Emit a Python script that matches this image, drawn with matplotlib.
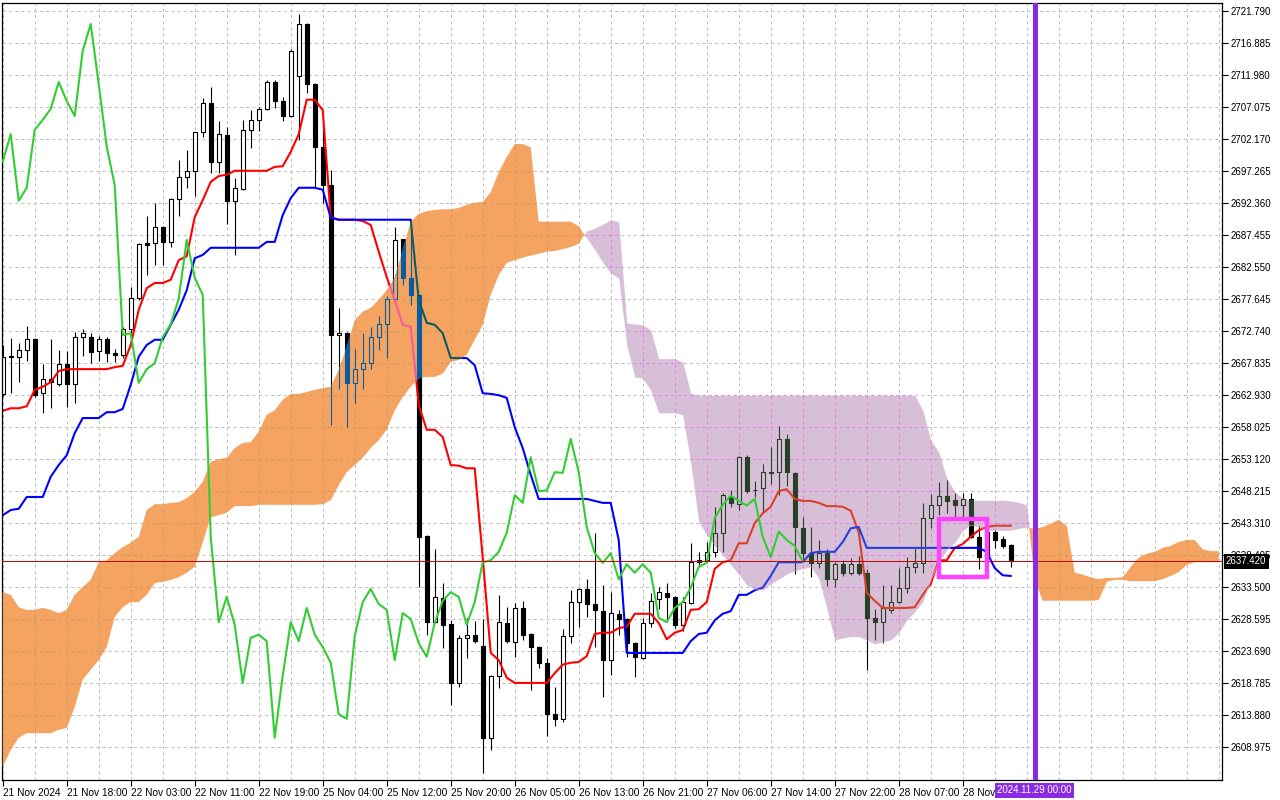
import numpy as np
import matplotlib
matplotlib.use("Agg")
import matplotlib.pyplot as plt
from matplotlib.collections import LineCollection, PolyCollection
from matplotlib.path import Path
from matplotlib.patches import Rectangle

plt.rcParams['font.family'] = ['Liberation Sans', 'DejaVu Sans']

# XAUUSD H1, 21 Nov 10:00 .. 28 Nov 21:00 (127 bars)
opens = [
    2663.1, 2668.8, 2668.8, 2669.8, 2671.5, 2663.2, 2665.4, 2664.6, 2667.7, 2664.6,
    2671.8, 2671.8, 2669.7, 2671.5, 2669.4, 2669.1, 2673.0, 2677.8, 2686.3, 2686.2,
    2688.7, 2686.4, 2693.0, 2696.4, 2697.3, 2703.2, 2707.7, 2698.7, 2702.8, 2692.7,
    2694.5, 2703.6, 2705.1, 2706.8, 2710.9, 2708.0, 2705.7, 2711.8, 2719.8, 2710.6,
    2701.0, 2695.1, 2672.1, 2672.4, 2664.8, 2666.9, 2667.8, 2671.8, 2673.8, 2677.7,
    2686.8, 2680.9, 2678.3, 2641.3, 2628.1, 2631.8, 2627.8, 2618.8, 2625.7, 2626.2,
    2624.5, 2610.4, 2619.9, 2628.0, 2625.1, 2630.3, 2626.3, 2624.3, 2621.9, 2614.0,
    2613.3, 2626.0, 2631.2, 2633.2, 2630.9, 2629.8, 2622.3, 2629.4, 2628.6, 2624.9,
    2622.6, 2628.0, 2631.7, 2632.6, 2632.0, 2627.7, 2631.0, 2637.3, 2637.6, 2638.9,
    2641.8, 2647.3, 2646.2, 2653.4, 2648.4, 2648.7, 2651.1, 2651.1, 2656.2, 2651.0,
    2642.5, 2638.7, 2637.2, 2638.7, 2634.7, 2637.0, 2635.7, 2637.0, 2635.7, 2628.8,
    2628.1, 2630.0, 2631.2, 2633.4, 2636.6, 2637.2, 2644.1, 2646.1, 2647.5, 2646.8,
    2646.0, 2647.0, 2641.2, 2638.1, 2642.0, 2640.9, 2640.0]
highs = [
    2670.6, 2671.7, 2670.9, 2673.5, 2671.6, 2667.7, 2671.5, 2669.8, 2669.7, 2672.6,
    2673.0, 2672.4, 2672.0, 2671.8, 2670.0, 2673.4, 2679.5, 2686.2, 2690.4, 2692.4,
    2688.8, 2693.1, 2699.0, 2700.5, 2703.3, 2708.5, 2710.1, 2704.9, 2704.0, 2696.2,
    2705.1, 2706.6, 2707.1, 2711.2, 2711.2, 2708.6, 2716.0, 2721.3, 2720.0, 2710.7,
    2704.5, 2697.4, 2676.3, 2672.6, 2670.0, 2672.4, 2673.4, 2675.0, 2678.1, 2688.7,
    2686.9, 2688.7, 2678.4, 2641.4, 2639.3, 2634.1, 2628.4, 2626.2, 2628.7, 2628.3,
    2628.6, 2620.0, 2632.3, 2630.4, 2631.0, 2631.4, 2626.4, 2624.4, 2622.6, 2618.2,
    2627.1, 2633.0, 2633.3, 2634.7, 2641.8, 2633.8, 2632.7, 2630.0, 2628.7, 2625.0,
    2628.7, 2632.6, 2633.5, 2634.1, 2632.1, 2632.0, 2640.3, 2638.9, 2640.4, 2645.8,
    2647.9, 2648.4, 2653.6, 2653.7, 2649.8, 2652.4, 2655.0, 2658.2, 2657.0, 2651.2,
    2644.2, 2642.7, 2640.7, 2639.3, 2637.3, 2637.6, 2638.0, 2638.3, 2636.2, 2630.1,
    2633.8, 2633.8, 2636.4, 2638.1, 2639.5, 2646.4, 2647.8, 2649.6, 2649.9, 2647.9,
    2647.9, 2647.9, 2642.9, 2642.2, 2642.3, 2641.3, 2640.1]
lows = [
    2662.8, 2663.2, 2664.9, 2668.1, 2662.6, 2660.2, 2660.9, 2664.3, 2661.1, 2661.7,
    2668.9, 2667.9, 2668.1, 2668.0, 2668.0, 2668.6, 2670.6, 2677.5, 2681.3, 2682.9,
    2682.9, 2685.6, 2690.4, 2694.7, 2693.4, 2702.5, 2697.0, 2697.0, 2689.1, 2684.4,
    2694.4, 2700.8, 2703.4, 2706.6, 2706.9, 2704.9, 2705.5, 2702.0, 2709.2, 2694.8,
    2692.4, 2658.3, 2663.9, 2658.1, 2661.7, 2663.9, 2666.9, 2669.8, 2668.6, 2677.5,
    2679.8, 2676.7, 2633.5, 2626.2, 2628.0, 2624.2, 2615.4, 2618.2, 2622.6, 2624.9,
    2605.0, 2608.5, 2618.0, 2624.9, 2622.8, 2625.4, 2617.7, 2621.1, 2610.7, 2612.2,
    2612.8, 2624.9, 2627.4, 2628.9, 2624.3, 2616.6, 2620.0, 2626.2, 2622.8, 2619.7,
    2622.5, 2627.4, 2630.1, 2628.6, 2627.2, 2626.8, 2630.9, 2636.6, 2637.3, 2638.1,
    2638.9, 2645.8, 2645.3, 2647.9, 2647.3, 2645.0, 2649.3, 2647.6, 2649.0, 2635.5,
    2637.8, 2635.0, 2636.4, 2633.7, 2633.5, 2635.2, 2635.3, 2635.3, 2620.8, 2625.4,
    2624.9, 2629.5, 2631.1, 2632.6, 2635.7, 2635.7, 2642.5, 2644.5, 2644.9, 2644.2,
    2644.2, 2641.0, 2636.3, 2637.6, 2639.5, 2639.5, 2636.6]
closes = [
    2668.8, 2668.9, 2669.8, 2671.5, 2662.9, 2665.4, 2664.9, 2667.7, 2664.6, 2671.8,
    2672.4, 2669.5, 2671.5, 2669.4, 2669.1, 2673.0, 2677.8, 2686.1, 2686.0, 2688.7,
    2686.4, 2693.0, 2696.4, 2697.3, 2703.2, 2707.7, 2698.7, 2702.9, 2692.7, 2694.7,
    2703.6, 2705.1, 2706.8, 2710.9, 2708.0, 2705.7, 2715.7, 2719.8, 2710.6, 2701.0,
    2695.1, 2672.1, 2672.4, 2664.8, 2666.9, 2667.8, 2671.8, 2673.8, 2677.7, 2686.7,
    2680.9, 2678.3, 2641.2, 2628.1, 2632.0, 2627.7, 2618.8, 2625.7, 2626.2, 2625.2,
    2610.4, 2619.9, 2628.1, 2625.2, 2630.3, 2626.2, 2624.3, 2621.9, 2614.0, 2613.3,
    2626.0, 2631.2, 2633.2, 2630.9, 2630.0, 2622.3, 2629.5, 2628.6, 2624.9, 2622.8,
    2628.0, 2631.4, 2632.7, 2632.0, 2627.7, 2631.2, 2637.3, 2637.6, 2638.9, 2641.8,
    2647.6, 2646.4, 2653.4, 2648.2, 2648.3, 2651.1, 2651.0, 2656.2, 2651.1, 2642.7,
    2638.7, 2637.2, 2638.7, 2634.7, 2637.0, 2635.7, 2637.0, 2635.7, 2628.8, 2628.1,
    2630.3, 2631.2, 2633.4, 2636.6, 2637.2, 2644.1, 2646.1, 2647.5, 2646.7, 2646.0,
    2647.0, 2641.2, 2638.1, 2642.0, 2640.7, 2639.8, 2637.42]

tenkan = [
    2660.5, 2660.9, 2660.9, 2661.2, 2663.7, 2664.2, 2664.9, 2666.6, 2666.9, 2666.9,
    2666.9, 2666.9, 2666.9, 2666.9, 2667.2, 2667.4, 2670.6, 2676.0, 2679.3, 2680.1,
    2680.1, 2680.6, 2683.6, 2684.2, 2690.2, 2692.8, 2695.6, 2696.5, 2696.7, 2697.3,
    2697.3, 2697.3, 2697.3, 2697.3, 2697.9, 2698.0, 2700.2, 2702.9, 2708.2, 2708.2,
    2706.6, 2690.2, 2689.8, 2689.8, 2689.8, 2689.6, 2689.0, 2684.9, 2681.0, 2677.5,
    2673.7, 2673.4, 2661.4, 2657.6, 2657.6, 2656.5, 2652.2, 2652.1, 2651.7, 2651.7,
    2638.0, 2623.4, 2622.3, 2619.6, 2618.8, 2618.8, 2618.8, 2618.8, 2618.8, 2620.3,
    2621.6, 2621.9, 2622.0, 2622.9, 2626.3, 2626.5, 2626.5, 2627.2, 2627.4, 2629.4,
    2629.4, 2629.4, 2628.0, 2625.5, 2626.5, 2626.9, 2630.0, 2630.1, 2631.2, 2636.3,
    2637.3, 2637.6, 2640.2, 2640.2, 2643.3, 2644.8, 2645.8, 2648.2, 2648.5, 2647.0,
    2646.7, 2646.7, 2646.4, 2645.9, 2645.9, 2645.8, 2645.2, 2641.9, 2632.6, 2631.4,
    2630.3, 2630.3, 2630.3, 2630.3, 2630.4, 2632.3, 2634.0, 2637.6, 2637.6, 2639.5,
    2640.1, 2641.2, 2642.2, 2642.7, 2642.9, 2642.9, 2642.9]
kijun = [
    2644.5, 2645.3, 2645.5, 2647.3, 2647.3, 2647.3, 2650.4, 2652.2, 2653.7, 2657.1,
    2659.4, 2659.4, 2659.4, 2660.3, 2660.3, 2660.8, 2664.5, 2668.8, 2670.6, 2671.4,
    2671.4, 2673.7, 2676.0, 2679.0, 2683.9, 2684.4, 2685.5, 2685.5, 2685.5, 2685.5,
    2685.5, 2685.5, 2685.5, 2686.4, 2686.4, 2690.5, 2693.1, 2694.7, 2694.7, 2694.7,
    2694.4, 2690.1, 2689.8, 2689.8, 2689.8, 2689.8, 2689.8, 2689.8, 2689.8, 2689.8,
    2689.8, 2689.8, 2677.5, 2674.0, 2673.7, 2672.4, 2668.6, 2668.6, 2668.6, 2667.5,
    2663.2, 2663.1, 2662.9, 2662.5, 2658.0, 2654.8, 2650.7, 2647.0, 2647.0, 2647.0,
    2647.0, 2647.0, 2647.0, 2647.0, 2646.7, 2646.4, 2646.4, 2640.7, 2623.4, 2623.4,
    2623.4, 2623.4, 2623.4, 2623.4, 2623.4, 2623.4, 2625.2, 2626.3, 2626.5, 2628.4,
    2629.4, 2629.8, 2632.3, 2632.3, 2633.0, 2633.4, 2635.2, 2637.3, 2637.3, 2637.3,
    2637.3, 2638.7, 2638.9, 2638.9, 2638.9, 2640.4, 2642.5, 2642.7, 2639.5, 2639.5,
    2639.5, 2639.5, 2639.5, 2639.5, 2639.5, 2639.5, 2639.5, 2639.5, 2639.5, 2639.5,
    2639.5, 2639.5, 2639.5, 2638.9, 2636.4, 2635.3, 2635.2]

# cloud spans, already shifted 26 bars forward (153 values)
span_a = [
    2632.7, 2632.3, 2630.4, 2630.0, 2630.0, 2630.3, 2630.0, 2629.5, 2630.0, 2632.3,
    2633.5, 2634.6, 2637.3, 2637.6, 2638.7, 2639.6, 2640.3, 2641.2, 2645.3, 2646.2,
    2646.2, 2646.4, 2646.5, 2647.1, 2648.1, 2649.6, 2652.7, 2653.1, 2653.3, 2654.8,
    2655.6, 2655.7, 2657.3, 2659.9, 2660.6, 2662.2, 2663.1, 2663.1, 2663.4, 2663.7,
    2664.0, 2664.2, 2666.8, 2670.3, 2674.4, 2675.7, 2676.3, 2677.5, 2679.0, 2680.9,
    2685.2, 2689.5, 2690.7, 2691.1, 2691.3, 2691.4, 2691.4, 2691.6, 2692.1, 2692.4,
    2692.5, 2694.0, 2697.1, 2699.4, 2701.4, 2701.4, 2700.9, 2689.5, 2689.5, 2689.5,
    2689.5, 2689.5, 2688.8, 2687.0, 2685.2, 2683.3, 2681.6, 2680.9, 2670.6, 2665.7,
    2665.5, 2663.7, 2660.2, 2660.2, 2660.2, 2659.9, 2652.5, 2643.5, 2641.5, 2639.9,
    2638.4, 2636.9, 2635.5, 2633.8, 2633.2, 2633.0, 2634.0, 2634.7, 2635.5, 2636.0,
    2636.3, 2636.6, 2634.9, 2630.3, 2625.4, 2625.7, 2625.9, 2625.9, 2625.4, 2624.8,
    2625.1, 2625.4, 2626.5, 2628.4, 2629.7, 2631.2, 2634.6, 2637.3, 2639.2, 2640.3,
    2642.2, 2643.0, 2642.7, 2642.2, 2642.2, 2642.2, 2642.2, 2642.5, 2642.7, 2642.4,
    2642.7, 2643.2, 2643.8, 2642.9, 2635.7, 2635.4, 2635.0, 2634.7, 2634.9, 2634.9,
    2635.0, 2636.6, 2638.0, 2638.6, 2638.9, 2639.5, 2639.8, 2640.4, 2640.7, 2640.7,
    2639.3, 2639.0, 2639.0]
span_b = [
    2605.9, 2608.5, 2610.4, 2611.1, 2611.1, 2611.1, 2611.1, 2611.6, 2611.9, 2615.1,
    2619.3, 2620.8, 2622.3, 2624.3, 2628.9, 2630.4, 2631.2, 2631.2, 2632.3, 2634.1,
    2634.3, 2634.6, 2635.0, 2635.7, 2636.6, 2640.3, 2644.2, 2644.5, 2644.9, 2645.9,
    2645.9, 2645.9, 2646.1, 2646.1, 2646.1, 2646.1, 2646.1, 2646.1, 2646.1, 2646.1,
    2646.2, 2646.8, 2649.1, 2651.1, 2652.2, 2653.3, 2654.8, 2656.0, 2657.6, 2660.6,
    2662.6, 2664.2, 2665.5, 2665.7, 2665.7, 2666.2, 2668.0, 2668.3, 2669.1, 2671.4,
    2673.7, 2678.3, 2681.3, 2683.2, 2683.6, 2684.0, 2684.3, 2684.6, 2684.9, 2685.0,
    2685.3, 2685.6, 2686.1, 2688.1, 2688.5, 2689.1, 2689.8, 2689.5, 2674.0, 2673.8,
    2673.7, 2672.9, 2668.5, 2668.5, 2668.5, 2668.0, 2663.2, 2662.9, 2662.9, 2662.9,
    2662.9, 2662.9, 2662.9, 2662.9, 2662.9, 2662.9, 2662.9, 2662.9, 2662.9, 2662.9,
    2662.9, 2662.9, 2662.9, 2662.9, 2662.9, 2662.9, 2662.9, 2662.9, 2662.9, 2662.9,
    2662.9, 2662.9, 2662.9, 2662.9, 2662.9, 2660.6, 2656.0, 2654.2, 2650.2, 2648.1,
    2647.1, 2646.8, 2646.8, 2646.8, 2646.8, 2646.8, 2646.7, 2646.5, 2646.1, 2634.6,
    2631.4, 2631.4, 2631.4, 2631.4, 2631.4, 2631.4, 2631.4, 2631.5, 2634.3, 2634.6,
    2634.6, 2634.4, 2634.4, 2634.4, 2634.4, 2634.7, 2635.2, 2635.8, 2636.9, 2637.3,
    2637.3, 2637.3, 2637.3]

# the last label is cut short by the date marker box on the time axis
time_labels = ["21 Nov 2024", "21 Nov 18:00", "22 Nov 03:00", "22 Nov 11:00",
               "22 Nov 19:00", "25 Nov 04:00", "25 Nov 12:00", "25 Nov 20:00",
               "26 Nov 05:00", "26 Nov 13:00", "26 Nov 21:00", "27 Nov 06:00",
               "27 Nov 14:00", "27 Nov 22:00", "28 Nov 07:00", "28 Nov"]
label_bars = list(range(0, 121, 8))
price_levels = [2608.975 + 4.905 * k for k in range(24)]

SHIFT = 26
marker_bar = 129                      # 2024.11.29 00:00
box_bars = (117, 123)
box_prices = (2635.04, 2643.85)

BLACK, WHITE = '#000000', '#ffffff'
RED, BLUE, GRID = '#ff0000', '#0000ff', '#c0c0c0'
ORANGE, THISTLE = '#f4a460', '#d8bfd8'

n = len(closes)
bars = np.arange(n)
cloud_x = np.arange(len(span_a))
o, h, l, c = map(np.array, (opens, highs, lows, closes))

fig = plt.figure(figsize=(12.8, 8), dpi=100)
ax = fig.add_axes([2 / 1280, 20 / 800, 1220 / 1280, 777 / 800])
x0, x1 = -0.09, 152.41
y0, y1 = 2603.92, 2723.02
ax.set_xlim(x0, x1)
ax.set_ylim(y0, y1)


def xor_colours(cloud):
    # MT4 paints the cloud in xor mode: whatever is under it gets inverted
    key = 0xFFFFFF ^ int(cloud[1:], 16)
    return lambda col: '#%06x' % (int(col[1:], 16) ^ key)


def draw_layer(tf, clip=None, z=1):
    arts = []
    hseg = [[(x0, p), (x1, p)] for p in price_levels]
    vseg = [[(b, y0), (b, y1)] for b in range(0, 153, 4)]
    grid = LineCollection(hseg + vseg, colors=tf(GRID), linewidths=0.75,
                          linestyles=[(0, (3, 3))], zorder=z)
    arts.append(ax.add_collection(grid))

    wicks = LineCollection([[(i, l[i]), (i, h[i])] for i in bars],
                           colors=tf(BLACK), linewidths=0.8, zorder=z + 0.1)
    arts.append(ax.add_collection(wicks))

    verts, faces = [], []
    for i in bars:
        lo, hi = min(o[i], c[i]), max(o[i], c[i])
        if hi - lo < 0.1:
            hi = lo + 0.1
        verts.append([(i - 0.27, lo), (i + 0.27, lo), (i + 0.27, hi), (i - 0.27, hi)])
        faces.append(tf(WHITE) if c[i] > o[i] else tf(BLACK))
    bodies = PolyCollection(verts, facecolors=faces, edgecolors=tf(BLACK),
                            linewidths=0.8, zorder=z + 0.2)
    arts.append(ax.add_collection(bodies))

    arts += ax.plot(bars, tenkan, color=tf(RED), lw=1.5, zorder=z + 0.3)
    arts += ax.plot(bars, kijun, color=tf(BLUE), lw=1.5, zorder=z + 0.3)
    if clip is not None:
        for a in arts:
            a.set_clip_path(clip, ax.transData)


draw_layer(lambda col: col, z=1)

sa, sb = np.array(span_a), np.array(span_b)
up = sa >= sb
orange = ax.fill_between(cloud_x, sa, sb, where=up, interpolate=True,
                         color=ORANGE, lw=0, zorder=3)
thistle = ax.fill_between(cloud_x, sa, sb, where=~up, interpolate=True,
                          color=THISTLE, lw=0, zorder=3)
orange_path = Path.make_compound_path(*orange.get_paths())
thistle_path = Path.make_compound_path(*thistle.get_paths())

draw_layer(xor_colours(ORANGE), clip=orange_path, z=4)
draw_layer(xor_colours(THISTLE), clip=thistle_path, z=4)

# chikou span: close plotted 26 bars back
ax.plot(bars[:n - SHIFT], c[SHIFT:], color='#32cd32', lw=1.5, zorder=6)

ax.axhline(closes[-1], color='#c80000', lw=0.7, zorder=7)
ax.add_patch(Rectangle((box_bars[0], box_prices[0]), box_bars[1] - box_bars[0],
                       box_prices[1] - box_prices[0], fill=False,
                       edgecolor='#ff40ff', lw=3.2, zorder=8))
ax.axvline(marker_bar, color='#8a2be2', lw=3.6, zorder=9)

# axes, ticks
for s in ax.spines.values():
    s.set_color('black')
    s.set_linewidth(0.9)
ax.yaxis.tick_right()
ax.set_yticks(price_levels)
ax.set_yticklabels([f'{v:.3f}' for v in price_levels])
ax.tick_params(axis='y', length=4, width=0.8, pad=2, labelsize=7)
ax.set_xticks(label_bars)
ax.set_xticklabels(time_labels, ha='left')
ax.tick_params(axis='x', length=4, width=0.8, pad=1.5, labelsize=7.3)

ax.text(1 + 4 / 1220, closes[-1], f'{closes[-1]:.3f}', transform=ax.get_yaxis_transform(),
        ha='left', va='center', fontsize=7, color='white', clip_on=False, zorder=20,
        bbox=dict(facecolor='black', edgecolor='none', pad=1.6))
ax.text(marker_bar, -0.0135, '2024.11.29 00:00', transform=ax.get_xaxis_transform(),
        ha='center', va='center', fontsize=7, color='white', clip_on=False, zorder=20,
        bbox=dict(facecolor='#8a2be2', edgecolor='none', pad=1.6))

fig.savefig('out.png', dpi=100)
